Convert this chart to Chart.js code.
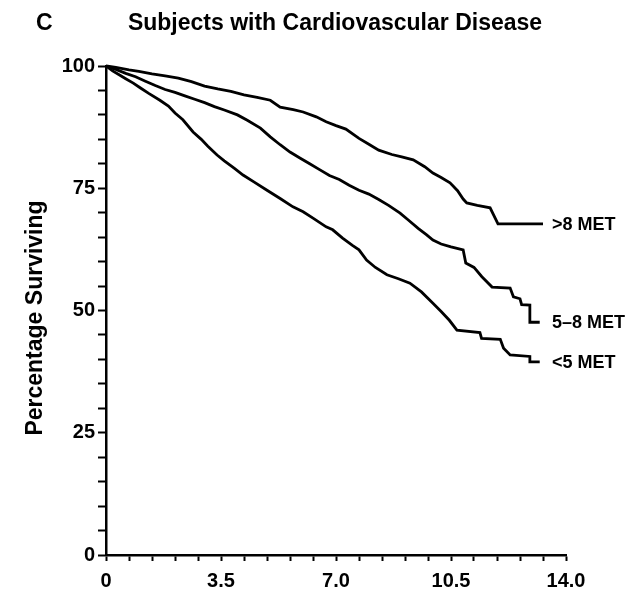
<!DOCTYPE html>
<html>
<head>
<meta charset="utf-8">
<script src="https://cdn.jsdelivr.net/npm/chart.js@4.4.1/dist/chart.umd.min.js"></script>
<style>
  html, body { margin: 0; padding: 0; background: #fff; }
  #wrap { width: 638px; height: 595px; }
</style>
</head>
<body>
<div id="wrap"><canvas id="survChart" width="638" height="595"></canvas></div>
<script>
// Kaplan-Meier survival (years, % surviving)
const panelLetter = 'C';
const chartTitle = 'Subjects with Cardiovascular Disease';
const yTitle = 'Percentage Surviving';
const seriesNames = ['>8 MET', '5\u20138 MET', '<5 MET'];

const highYears = [0, 0.3, 0.7, 1.0, 1.4, 1.8, 2.2, 2.6, 3.0, 3.4, 3.8, 4.2, 4.6, 5.0, 5.3, 5.7, 6.0, 6.4, 6.7, 7.0, 7.3, 7.7, 8.0, 8.3, 8.7, 9.0, 9.35, 9.7, 9.95, 10.2, 10.47, 10.7, 10.87, 10.98, 11.3, 11.69, 11.93, 13.3];
const highPct = [100, 99.7, 99.2, 98.9, 98.4, 98.0, 97.5, 96.8, 95.9, 95.3, 94.8, 94.1, 93.6, 93.0, 91.6, 91.1, 90.6, 89.6, 88.6, 87.8, 87.1, 85.2, 84.0, 82.8, 81.9, 81.4, 80.8, 79.4, 78.1, 77.2, 76.1, 74.5, 72.8, 72.0, 71.5, 71.0, 67.7, 67.7];

const midYears = [0, 0.3, 0.6, 0.9, 1.2, 1.5, 1.8, 2.1, 2.4, 2.7, 3.0, 3.3, 3.6, 4.0, 4.3, 4.7, 5.0, 5.3, 5.6, 5.9, 6.2, 6.5, 6.8, 7.1, 7.4, 7.7, 8.0, 8.3, 8.6, 8.95, 9.2, 9.5, 9.75, 9.95, 10.2, 10.5, 10.87, 10.95, 11.2, 11.44, 11.75, 12.3, 12.4, 12.6, 12.65, 12.9, 12.9, 13.2];
const midPct = [100, 99.3, 98.5, 97.8, 96.9, 96.0, 95.2, 94.6, 93.9, 93.2, 92.5, 91.7, 91.0, 90.0, 88.9, 87.3, 85.5, 83.9, 82.4, 81.2, 80.0, 78.8, 77.6, 76.8, 75.6, 74.6, 73.8, 72.7, 71.5, 69.9, 68.5, 66.8, 65.5, 64.4, 63.6, 63.0, 62.4, 59.7, 58.8, 56.9, 54.8, 54.6, 52.8, 52.4, 51.2, 51.1, 47.6, 47.6];

const lowYears = [0, 0.2, 0.4, 0.6, 0.83, 1.05, 1.3, 1.64, 1.9, 2.1, 2.34, 2.65, 2.9, 3.1, 3.38, 3.6, 3.9, 4.17, 4.5, 4.9, 5.3, 5.69, 6.0, 6.3, 6.7, 6.9, 7.2, 7.5, 7.7, 7.93, 8.2, 8.55, 8.9, 9.25, 9.6, 9.95, 10.2, 10.45, 10.68, 11.38, 11.43, 12.0, 12.1, 12.3, 12.9, 12.9, 13.2];
const lowPct = [100, 99.0, 98.2, 97.4, 96.5, 95.5, 94.4, 93.0, 91.8, 90.4, 89.0, 86.5, 85.0, 83.6, 81.8, 80.6, 79.1, 77.7, 76.3, 74.6, 72.9, 71.2, 70.2, 68.9, 67.1, 66.5, 64.8, 63.3, 62.4, 60.3, 58.8, 57.3, 56.5, 55.6, 53.8, 51.5, 49.8, 48.0, 46.0, 45.5, 44.3, 44.1, 42.3, 40.9, 40.6, 39.5, 39.5];

const xLabelEvery = 3.5;
const yLabelEvery = 25;

const FONT = '"Liberation Sans", Arial, Helvetica, sans-serif';
Chart.defaults.color = '#000';

function toPoints(xs, ys) {
    return xs.map((t, i) => ({ x: t, y: ys[i] }));
}

const curveStyle = {
    borderColor: '#000',
    borderWidth: 2.8,
    pointRadius: 0,
    tension: 0,
    fill: false,
    clip: false,
    borderJoinStyle: 'miter',
};

// title, axis title and the end-of-curve labels
const annotate = {
    id: 'annotate',
    afterDraw(chart) {
        const ctx = chart.ctx;
        const xs = chart.scales.x;
        const ys = chart.scales.y;
        ctx.save();
        ctx.fillStyle = '#000';
        ctx.textBaseline = 'middle';

        ctx.font = 'bold 23px ' + FONT;
        ctx.textAlign = 'left';
        ctx.fillText(panelLetter, 36, 24);
        ctx.textAlign = 'center';
        ctx.fillText(chartTitle, 335, 24);

        ctx.save();
        ctx.translate(36, 318);
        ctx.rotate(-Math.PI / 2);
        ctx.fillText(yTitle, 0, 0);
        ctx.restore();

        ctx.font = 'bold 18px ' + FONT;
        ctx.textAlign = 'left';
        const ends = chart.data.datasets.map(ds => ds.data[ds.data.length - 1]);
        const labelX = Math.max(...ends.map(p => xs.getPixelForValue(p.x))) + 9;
        ends.forEach((p, i) => {
            ctx.fillText(seriesNames[i], labelX, ys.getPixelForValue(p.y) + 1);
        });
        ctx.restore();
    }
};

const ctx = document.getElementById('survChart').getContext('2d');
const survChart = new Chart(ctx, {
    type: 'line',
    data: {
        datasets: [
            { label: seriesNames[0], data: toPoints(highYears, highPct), ...curveStyle },
            { label: seriesNames[1], data: toPoints(midYears, midPct), ...curveStyle },
            { label: seriesNames[2], data: toPoints(lowYears, lowPct), ...curveStyle },
        ],
    },
    options: {
        responsive: false,
        animation: false,
        events: [],
        layout: { padding: { top: 66, right: 72, bottom: 0, left: 0 } },
        plugins: {
            legend: { display: false },
            tooltip: { enabled: false },
            title: { display: false },
        },
        scales: {
            x: {
                type: 'linear',
                min: 0,
                max: 14,
                border: { color: '#000', width: 2.5 },
                grid: { drawOnChartArea: false, tickLength: 6, tickColor: '#000', tickWidth: 2 },
                ticks: {
                    stepSize: 0.7,
                    autoSkip: false,
                    maxRotation: 0,
                    padding: 8,
                    font: { family: FONT, size: 20, weight: 'bold' },
                    callback: (v) => {
                        const k = v / xLabelEvery;
                        if (Math.abs(k - Math.round(k)) > 1e-6) return '';
                        return v === 0 ? '0' : v.toFixed(1);
                    },
                },
                afterFit: (s) => { s.height = 40; },
            },
            y: {
                min: 0,
                max: 100,
                border: { color: '#000', width: 2.5 },
                grid: { drawOnChartArea: false, tickLength: 8, tickColor: '#000', tickWidth: 2 },
                ticks: {
                    stepSize: 5,
                    autoSkip: false,
                    padding: 3,
                    font: { family: FONT, size: 20, weight: 'bold' },
                    callback: (v) => (v % yLabelEvery === 0 ? String(v) : ''),
                },
                afterFit: (s) => { s.width = 106; },
            },
        },
    },
    plugins: [annotate],
});
</script>
</body>
</html>
